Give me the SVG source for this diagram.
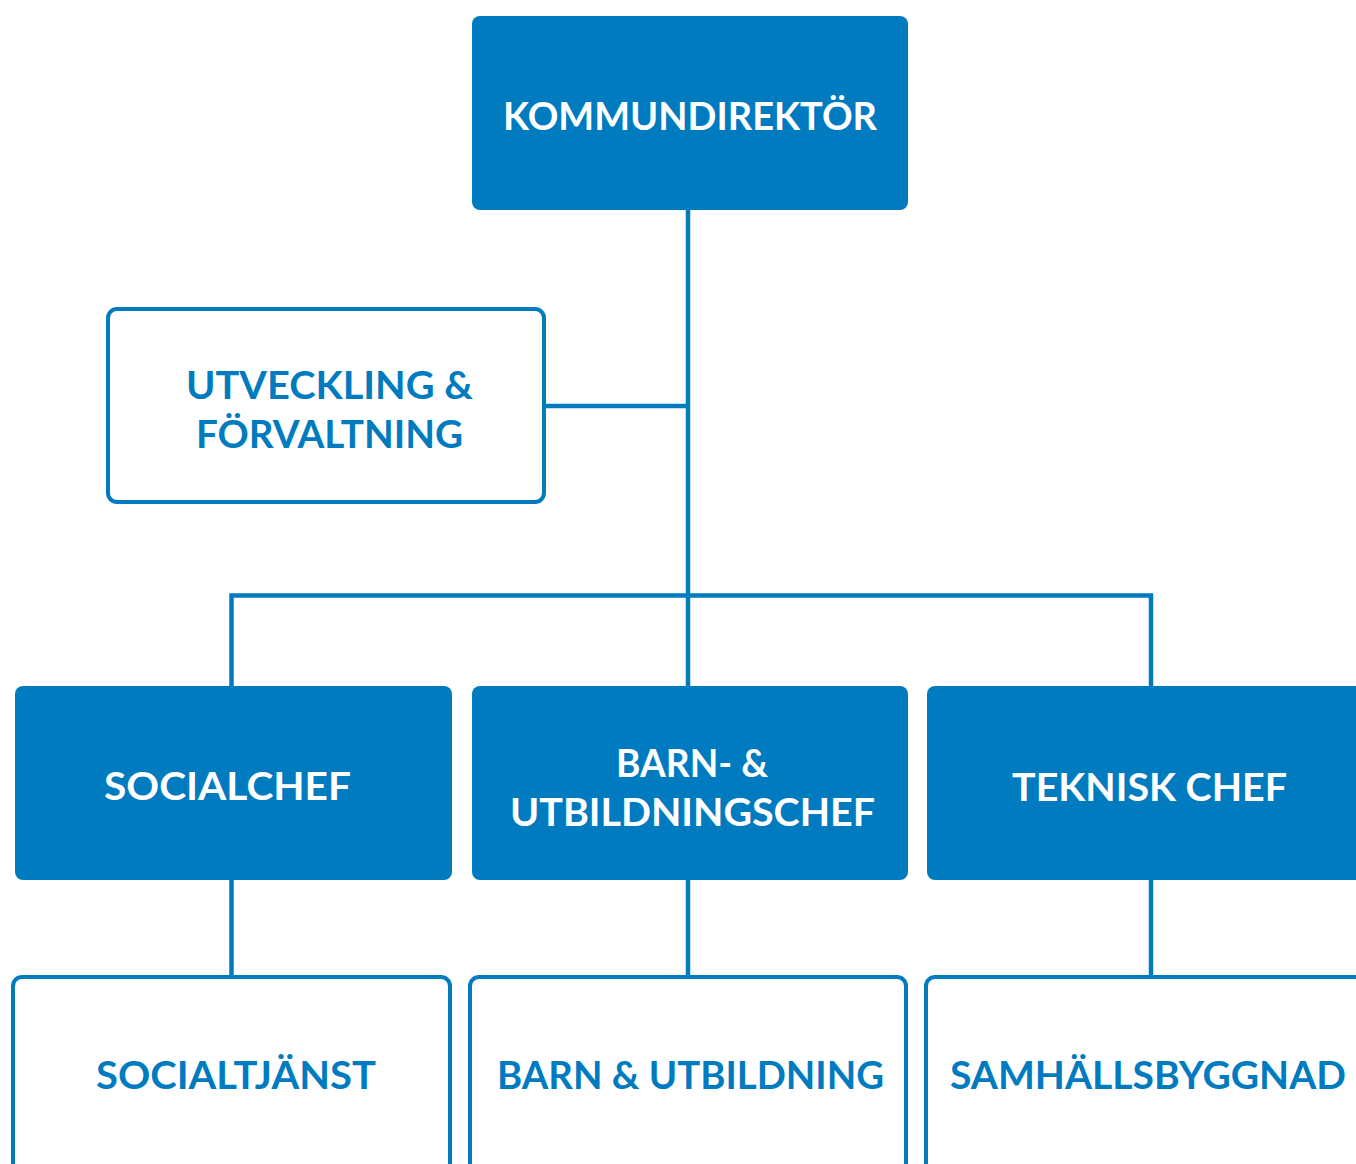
<svg xmlns="http://www.w3.org/2000/svg" width="1356" height="1164" viewBox="0 0 1356 1164">
<style>
.fill{fill:#007BBF}
.out{fill:#fff;stroke:#007BBF;stroke-width:4}
.conn{fill:none;stroke:#007BBF;stroke-width:4.5}
text{font-family:Lato,"Liberation Sans",sans-serif;font-weight:700;font-size:38px;text-anchor:middle}
.w{fill:#fff}
.b{fill:#007BBF}
</style>
<rect width="1356" height="1164" fill="#fff"/>
<g id="connectors">
<path class="conn" d="M688 208V688"/>
<path class="conn" d="M545 406H688"/>
<path class="conn" d="M231.5 688V595.5H1151V688"/>
<path class="conn" d="M231.5 878V977"/>
<path class="conn" d="M688 878V977"/>
<path class="conn" d="M1151 878V977"/>
</g>
<g id="kommundirektor">
<rect class="fill" x="472" y="16" width="436" height="194" rx="8"/>
<text class="w" x="690" y="130" textLength="374" lengthAdjust="spacingAndGlyphs">KOMMUNDIREKTÖR</text>
</g>
<g id="utveckling">
<rect class="out" x="108" y="309" width="436" height="193" rx="9"/>
<text class="b" x="329.5" y="399" textLength="287" lengthAdjust="spacingAndGlyphs">UTVECKLING &amp;</text>
<text class="b" x="329.5" y="448" textLength="267" lengthAdjust="spacingAndGlyphs">FÖRVALTNING</text>
</g>
<g id="socialchef">
<rect class="fill" x="15" y="686" width="437" height="194" rx="8"/>
<text class="w" x="227.5" y="800" textLength="247" lengthAdjust="spacingAndGlyphs">SOCIALCHEF</text>
</g>
<g id="barnchef">
<rect class="fill" x="472" y="686" width="436" height="194" rx="8"/>
<text class="w" x="692" y="777" textLength="152" lengthAdjust="spacingAndGlyphs">BARN- &amp;</text>
<text class="w" x="692.5" y="826" textLength="365" lengthAdjust="spacingAndGlyphs">UTBILDNINGSCHEF</text>
</g>
<g id="teknisk">
<rect class="fill" x="927" y="686" width="460" height="194" rx="8"/>
<text class="w" x="1149.5" y="801" textLength="275" lengthAdjust="spacingAndGlyphs">TEKNISK CHEF</text>
</g>
<g id="socialtjanst">
<rect class="out" x="13" y="977" width="437" height="240" rx="9"/>
<text class="b" x="236" y="1089" textLength="280" lengthAdjust="spacingAndGlyphs">SOCIALTJÄNST</text>
</g>
<g id="barnutb">
<rect class="out" x="470" y="977" width="436" height="240" rx="9"/>
<text class="b" x="690.5" y="1089" textLength="387" lengthAdjust="spacingAndGlyphs">BARN &amp; UTBILDNING</text>
</g>
<g id="samhall">
<rect class="out" x="926" y="977" width="460" height="240" rx="9"/>
<text class="b" x="1148" y="1089" textLength="396" lengthAdjust="spacingAndGlyphs">SAMHÄLLSBYGGNAD</text>
</g>
</svg>
